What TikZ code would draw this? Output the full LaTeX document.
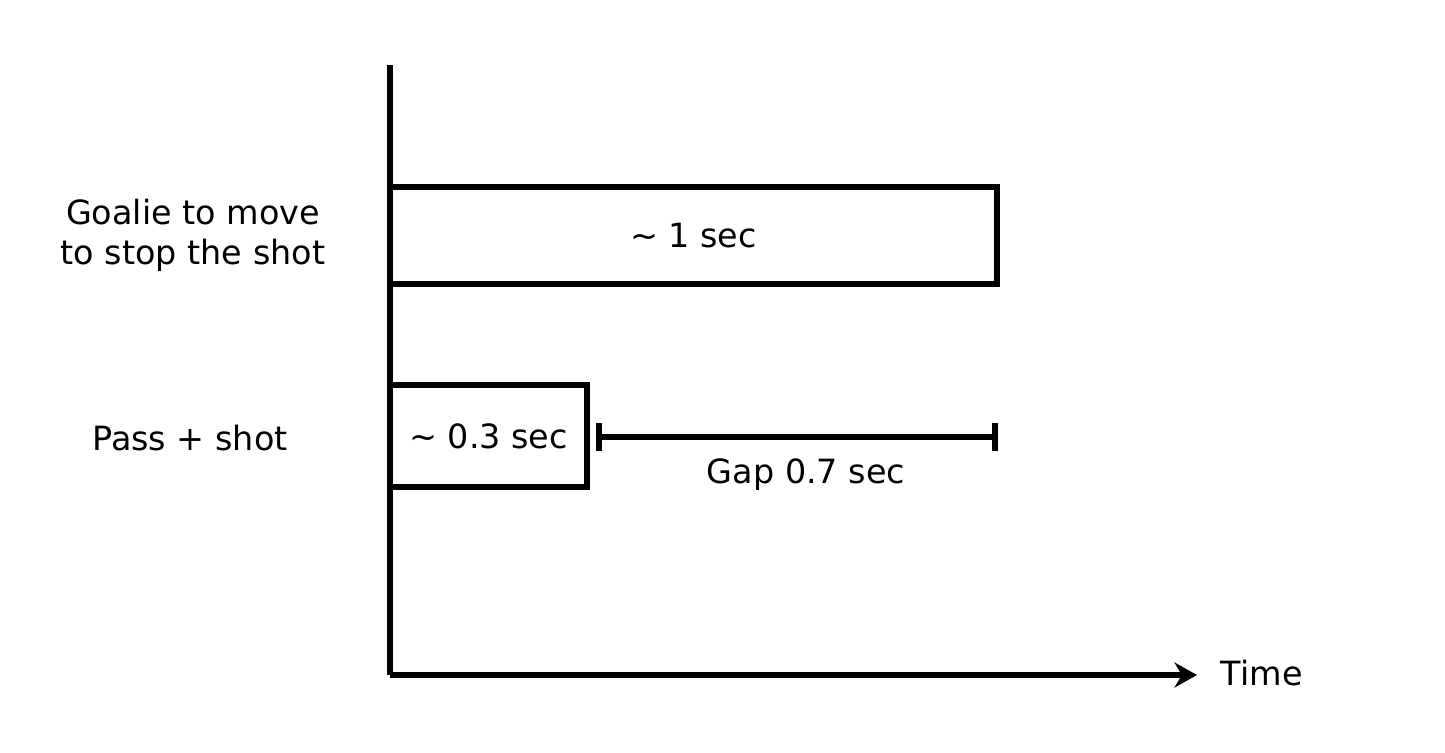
\documentclass[tikz,border=0pt]{standalone}
\usepackage{fontspec}
\setmainfont{DejaVu Sans}
\usetikzlibrary{arrows.meta}
\begin{document}
\begin{tikzpicture}[x=0.02cm,y=-0.02cm,line width=3.4pt]
\useasboundingbox (0,0) rectangle (1445,752);
\tikzstyle{bx} = [rectangle, draw=black, text centered, inner sep=0pt, font=\fontsize{19}{23}\selectfont]
\tikzstyle{lbl} = [align=center, font=\fontsize{19}{23}\selectfont]

\coordinate (top) at (390,65);
\coordinate (origin) at (390,675);
\coordinate (end) at (1197,675);
\node (goalie) [bx, minimum width=12.14cm, minimum height=1.94cm] at (693.5,235.5) {\textasciitilde{} 1 sec};
\node (pass) [bx, minimum width=3.94cm, minimum height=2.04cm] at (488.5,436) {\textasciitilde{} 0.3 sec};
\coordinate (gapa) at (596,437);
\coordinate (gapb) at (998,437);

\node (goalielbl) [lbl] at (193,235) {Goalie to move\\to stop the shot};
\node (passlbl) [lbl] at (190,438) {Pass + shot};
\node (gaplbl) [lbl] at (806,475) {Gap 0.7 sec};
\node (time) [lbl, anchor=west] at (1212,673) {Time};

\draw (top) -- (origin);
\draw [-{Stealth[length=0.45cm,width=0.5cm]}] (origin) -- (end);
\draw [{Bar[width=0.55cm]}-{Bar[width=0.55cm]}] (gapa) -- (gapb);
\end{tikzpicture}
\end{document}
